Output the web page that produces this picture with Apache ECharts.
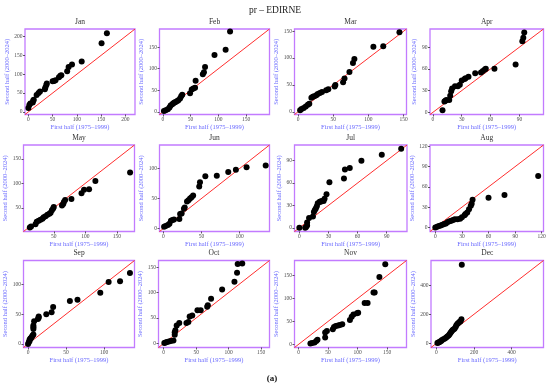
<!DOCTYPE html>
<html>
<head>
<meta charset="utf-8">
<script src="https://cdn.jsdelivr.net/npm/echarts@6/dist/echarts.min.js"></script>
<style>html,body{margin:0;padding:0;background:#fff}#c{width:550px;height:391px}</style>
</head>
<body>
<div id="c"></div>
<script>
const months = ['Jan','Feb','Mar','Apr','May','Jun','Jul','Aug','Sep','Oct','Nov','Dec'];

const janX = [0,2,4,9,10,11,17,21,24,34,35,37,38,50,53,56,63,66,68,80,83,90,110,151,162];
const janY = [10,18,22,25,30,32,45,50,54,60,65,71,75,81,82,84,92,96,97,108,119,126,134,182,209];
const febX = [2,5,9,12,14,17,19,21,23,26,28,31,33,35,49,52,55,58,59,72,74,76,93,113,121];
const febY = [2,4,6,10,15,18,20,22,23,25,27,31,36,40,43,52,54,56,72,87,92,104,132,144,186];
const marX = [3,5,8,11,14,16,19,21,23,26,28,31,34,40,43,52,53,64,66,73,78,80,107,121,144];
const marY = [3,5,7,10,13,15,26,28,29,31,33,35,37,40,42,47,50,55,62,74,91,98,121,122,148];
const aprX = [10,12,13,14,17,18,19,20,23,26,28,30,33,34,37,44,50,52,54,55,64,86,93,94,95];
const aprY = [3,15,16,17,17,23,29,33,36,36,38,44,46,47,49,54,55,57,59,60,60,66,98,103,110];
const mayX = [12,14,21,23,26,29,32,34,37,40,43,45,47,49,50,63,65,66,68,78,94,98,106,116,171];
const mayY = [10,12,17,22,24,26,28,31,33,36,38,40,45,49,52,55,58,62,66,68,80,87,88,105,122];
const junX = [1,3,6,8,10,12,14,21,22,24,27,28,31,33,35,37,39,47,48,55,70,85,95,109,134];
const junY = [3,4,6,8,13,14,15,16,24,25,33,35,45,47,50,52,55,70,77,87,88,94,98,102,105];
const julX = [0,6,7,8,8,10,14,15,16,17,18,19,21,22,23,25,26,28,31,46,47,52,64,85,105];
const julY = [0,0,1,3,7,13,15,21,24,26,29,33,35,35,36,36,39,45,61,66,78,80,90,98,106];
const augX = [0,2,4,6,8,10,12,14,16,18,20,22,25,28,30,33,34,36,38,40,41,42,60,78,116];
const augY = [0,1,2,3,4,5,6,8,9,10,11,12,12,13,15,18,20,22,27,32,35,41,44,48,76];
const sepX = [0,1,2,2,3,4,5,6,7,7,7,7,8,13,14,14,24,31,33,55,65,95,106,121,134];
const sepY = [0,3,5,7,9,10,12,14,16,25,28,31,38,42,44,46,50,53,62,72,74,86,104,105,119];
const octX = [1,3,5,8,11,15,17,17,18,20,24,35,38,40,44,52,57,67,68,73,90,109,113,114,121];
const octY = [1,2,3,4,5,6,17,22,26,35,40,40,42,53,55,65,65,72,75,88,106,121,139,156,157];
const novX = [20,23,27,30,32,45,45,48,58,60,63,67,70,74,87,90,93,99,101,112,117,127,129,137,147];
const novY = [2,3,4,7,10,15,26,29,33,38,40,41,42,44,53,60,65,68,69,90,90,113,113,147,175];
const decX = [5,10,15,20,25,30,37,45,52,58,65,70,75,80,85,90,96,102,106,112,118,124,128,133,135];
const decY = [2,5,8,12,16,22,27,33,40,46,53,62,72,82,90,95,100,112,125,135,142,148,152,165,540];

const firstHalf = [janX,febX,marX,aprX,mayX,junX,julX,augX,sepX,octX,novX,decX];
const secondHalf = [janY,febY,marY,aprY,mayY,junY,julY,augY,sepY,octY,novY,decY];

const axisMin = [-7,-6,-5,-3,2,-5,-5,-6,-6,-8,-7,-29];
const axisMax = [220,192,154,115,178,139,111,122,140,163,183,570];
const tickValues = [
  [0,50,100,150,200],[0,50,100,150],[0,50,100,150],[0,30,60,90],
  [50,100,150],[0,50,100],[0,30,60,90],[0,30,60,90,120],
  [0,50,100],[0,50,100,150],[0,50,100,150],[0,200,400]
];

const xName = 'First half (1975\u20131999)';
const yName = 'Second half (2000\u20132024)';
const mainTitle = 'pr \u2013 EDIRNE';
const panelLabel = '(a)';

// layout (pixels)
const colLeft = [[25,159.5,294.5,430],[23.5,159.5,294.5,430],[23.5,158.5,294.5,431]];
const colRight = [[135,269.5,406.5,543.5],[134.5,269.5,407,543.5],[134.5,269.5,406.5,543.5]];
const rowTop = [29,145,260.5];
const rowBottom = [114.5,231.5,347.5];

const FONT = '"Liberation Serif", "DejaVu Serif", serif';
const chart = echarts.init(document.getElementById('c'), null, {renderer:'canvas'});

const grids = [], xAxes = [], yAxes = [], series = [], graphics = [];
months.forEach((m, i) => {
  const r = Math.floor(i / 4), c = i % 4;
  const left = colLeft[r][c], right = colRight[r][c];
  const top = rowTop[r], bottom = rowBottom[r];
  grids.push({left: left, top: top, width: right - left, height: bottom - top,
    show: true, borderColor: '#c27bff', borderWidth: 1.3, backgroundColor: 'transparent', containLabel: false});
  const common = {
    gridIndex: i, type: 'value', min: axisMin[i], max: axisMax[i],
    splitLine: {show: false},
    axisLine: {show: false, onZero: false},
    axisTick: {show: true, length: 2, inside: false, customValues: tickValues[i], lineStyle: {color: '#333', width: 0.8}},
    axisLabel: {show: true, customValues: tickValues[i], fontSize: 5.5, color: '#4d4d4d', fontFamily: FONT, margin: 2.5},
    nameLocation: 'middle',
    nameTextStyle: {color: '#6a6aff', fontSize: 6.5, fontFamily: FONT}
  };
  xAxes.push(Object.assign({}, common, {position: 'bottom', name: xName, nameGap: 9}));
  yAxes.push(Object.assign({}, common, {position: 'left', name: yName, nameGap: (r > 0 && c === 0) ? 12.5 : 11}));
  series.push({
    type: 'line', xAxisIndex: i, yAxisIndex: i, silent: true, symbol: 'none', z: 2,
    data: [[axisMin[i], axisMin[i]], [axisMax[i], axisMax[i]]],
    lineStyle: {color: '#ff2e2e', width: 1}, animation: false
  });
  series.push({
    type: 'scatter', xAxisIndex: i, yAxisIndex: i, z: 3, symbolSize: 6,
    itemStyle: {color: '#000', opacity: 1},
    data: firstHalf[i].map((v, k) => [v, secondHalf[i][k]]), animation: false
  });
  graphics.push({type: 'text', x: (left + right) / 2, y: top - 7,
    style: {text: m, align: 'center', verticalAlign: 'middle', textAlign: 'center', textVerticalAlign: 'middle',
      fontSize: 7.5, fontFamily: FONT, fill: '#333'}});
});
graphics.push({type: 'text', x: 275, y: 10,
  style: {text: mainTitle, align: 'center', verticalAlign: 'middle', textAlign: 'center', textVerticalAlign: 'middle',
    fontSize: 9.5, fontFamily: FONT, fill: '#222'}});
graphics.push({type: 'text', x: 272, y: 379,
  style: {text: panelLabel, align: 'center', verticalAlign: 'middle', textAlign: 'center', textVerticalAlign: 'middle',
    fontSize: 9, fontWeight: 'bold', fontFamily: FONT, fill: '#111'}});

chart.setOption({
  animation: false,
  backgroundColor: '#fff',
  grid: grids, xAxis: xAxes, yAxis: yAxes, series: series, graphic: graphics
});
</script>
</body>
</html>
